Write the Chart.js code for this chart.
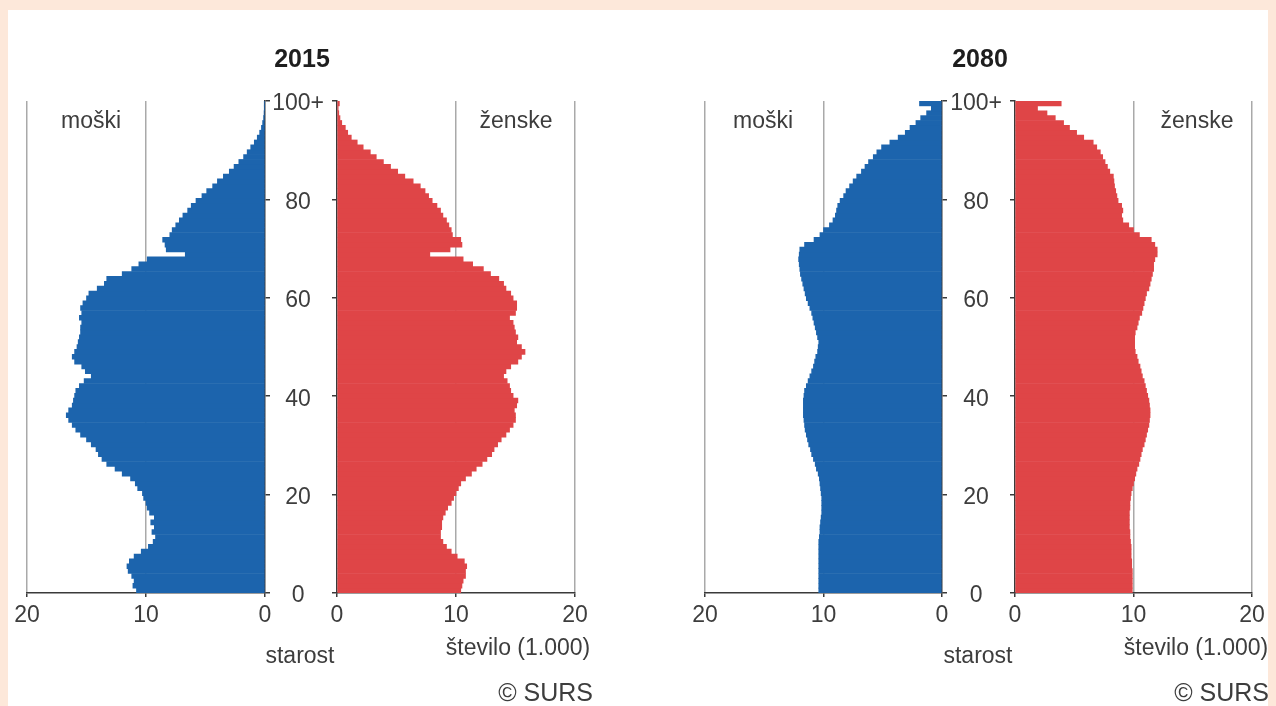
<!DOCTYPE html>
<html><head><meta charset="utf-8">
<script src="https://cdn.jsdelivr.net/npm/chart.js@4.4.1/dist/chart.umd.min.js"></script>
<style>
html,body{margin:0;padding:0;}
body{width:1276px;height:706px;background:#fde8da;position:relative;overflow:hidden;font-family:"Liberation Sans",Arial,sans-serif;color:#3d3d3d;}
#panel{position:absolute;left:8px;top:10px;width:1260px;height:696px;background:#fff;}
canvas{position:absolute;}
.t{position:absolute;white-space:nowrap;font-size:23px;line-height:1;}
.c{transform:translate(-50%,-50%);}
.r{transform:translate(-100%,-50%);}
.b{font-weight:bold;color:#1e1e1e;font-size:25px;}
.s{font-size:25px;}
</style></head><body>
<div id="panel"></div>
<canvas id="m15" width="280" height="580" style="left:0px;top:70px"></canvas>
<canvas id="f15" width="335" height="580" style="left:265px;top:70px"></canvas>
<canvas id="m80" width="277" height="580" style="left:680px;top:70px"></canvas>
<canvas id="f80" width="332" height="580" style="left:942px;top:70px"></canvas>

<div class="t c b" style="left:302px;top:58px">2015</div>
<div class="t c b" style="left:980px;top:58px">2080</div>
<div class="t c" style="left:91px;top:120px">moški</div>
<div class="t c" style="left:516px;top:120px">ženske</div>
<div class="t c" style="left:763px;top:120px">moški</div>
<div class="t c" style="left:1197px;top:120px">ženske</div>
<div class="t c" style="left:300px;top:655px">starost</div>
<div class="t c" style="left:978px;top:655px">starost</div>
<div class="t c" style="left:518px;top:647px">število (1.000)</div>
<div class="t c" style="left:1196px;top:647px">število (1.000)</div>
<div class="t r s" style="left:593px;top:692px">© SURS</div>
<div class="t r s" style="left:1269px;top:692px">© SURS</div>

<script>
const ages = ['0','1','2','3','4','5','6','7','8','9','10','11','12','13','14','15','16','17','18','19',
'20','21','22','23','24','25','26','27','28','29','30','31','32','33','34','35','36','37','38','39',
'40','41','42','43','44','45','46','47','48','49','50','51','52','53','54','55','56','57','58','59',
'60','61','62','63','64','65','66','67','68','69','70','71','72','73','74','75','76','77','78','79',
'80','81','82','83','84','85','86','87','88','89','90','91','92','93','94','95','96','97','98','99','100+'];

const male2015 = [10.8,11.1,11.0,11.2,11.5,11.6,11.4,11.0,10.4,9.8,
 9.4,9.2,9.5,9.3,9.6,9.3,9.7,9.9,10.0,10.2,
 10.3,10.7,10.9,11.3,12.0,12.6,13.3,13.7,14.0,14.2,
 14.6,15.0,15.5,15.9,16.2,16.5,16.7,16.5,16.2,16.1,
 16.0,15.9,15.6,15.2,14.6,15.1,15.4,16.0,16.2,16.0,
 15.8,15.7,15.6,15.5,15.5,15.4,15.6,15.4,15.5,15.3,
 15.0,14.8,14.1,13.5,13.3,12.0,11.2,10.6,9.9,6.7,
 8.3,8.4,8.6,8.0,7.8,7.5,7.2,6.9,6.5,6.2,
 5.8,5.3,4.9,4.4,4.0,3.5,3.0,2.6,2.2,1.8,
 1.5,1.2,0.9,0.65,0.45,0.3,0.2,0.12,0.08,0.05,
 0.05];

const female2015 = [10.4,10.5,10.6,10.8,10.8,10.9,10.7,10.1,9.6,9.2,
 8.9,8.7,8.7,8.8,8.8,8.9,9.1,9.3,9.6,9.8,
 10.0,10.2,10.4,10.8,11.3,11.7,12.2,12.6,13.0,13.2,
 13.5,13.8,14.2,14.5,14.8,15.0,15.0,14.9,15.1,15.2,
 14.8,14.6,14.5,14.3,14.0,14.2,14.6,15.2,15.5,15.8,
 15.5,15.1,15.2,15.0,14.9,14.8,14.5,15.0,15.1,15.1,
 14.8,14.6,14.2,14.0,13.6,12.9,12.3,11.4,10.6,7.8,
 9.5,10.5,10.4,9.7,9.6,9.4,9.2,8.9,8.7,8.4,
 8.0,7.7,7.4,7.0,6.4,5.7,5.1,4.5,3.9,3.3,
 2.8,2.2,1.7,1.2,0.9,0.7,0.4,0.25,0.15,0.1,
 0.2];

const male2080 = [10.4,10.4,10.4,10.4,10.4,10.4,10.4,10.4,10.4,10.4,
 10.4,10.35,10.3,10.3,10.25,10.2,10.15,10.15,10.15,10.15,
 10.2,10.25,10.3,10.35,10.45,10.6,10.7,10.85,11.0,11.1,
 11.25,11.35,11.45,11.55,11.6,11.65,11.7,11.7,11.7,11.7,
 11.65,11.6,11.45,11.3,11.15,11.0,10.85,10.75,10.65,10.5,
 10.45,10.4,10.5,10.6,10.7,10.8,10.9,11.0,11.15,11.3,
 11.45,11.55,11.65,11.75,11.85,11.95,12.0,12.05,12.1,12.05,
 12.0,11.6,10.8,10.3,10.0,9.5,9.2,9.0,8.9,8.8,
 8.6,8.3,8.1,7.8,7.5,7.2,6.8,6.5,6.2,5.8,
 5.5,5.1,4.4,3.7,3.1,2.7,2.2,1.8,1.3,0.9,
 1.9];

const female2080 = [9.9,9.9,9.9,9.9,9.9,9.85,9.85,9.8,9.8,9.8,
 9.75,9.7,9.7,9.65,9.65,9.65,9.65,9.7,9.7,9.75,
 9.8,9.9,10.0,10.1,10.2,10.3,10.45,10.55,10.65,10.75,
 10.9,11.0,11.1,11.2,11.3,11.35,11.4,11.4,11.35,11.3,
 11.2,11.1,11.0,10.9,10.75,10.65,10.55,10.4,10.3,10.15,
 10.1,10.1,10.1,10.15,10.3,10.4,10.5,10.7,10.8,10.9,
 11.0,11.1,11.3,11.4,11.5,11.6,11.7,11.7,11.8,12.0,
 12.0,11.8,11.5,10.5,10.0,9.6,9.1,9.0,9.1,9.0,
 8.7,8.6,8.5,8.4,8.35,8.3,8.0,7.8,7.6,7.4,
 7.2,6.9,6.6,5.8,5.2,4.6,4.1,3.4,2.7,1.9,
 3.9];

const ageTickStep = 20;
const valueTickStep = 10;

const BLUE = '#1c64ad';
const RED = '#df4547';
const AXIS = '#3a3a3a';
const GRID = '#a9a9a9';
const TXT = '#3d3d3d';
const FONT = '"Liberation Sans", Arial, sans-serif';

function makeChart(id, values, color, isMale, pad, yWidth) {
  new Chart(document.getElementById(id), {
    type: 'bar',
    data: {
      labels: ages,
      datasets: [{
        data: values, backgroundColor: color, borderWidth: 0,
        barPercentage: 1, categoryPercentage: 1,
        xAxisID: 'x', yAxisID: 'yc'
      }]
    },
    options: {
      indexAxis: 'y', responsive: false, animation: false, events: [],
      layout: { padding: pad },
      plugins: { legend: { display: false }, tooltip: { enabled: false }, title: { display: false } },
      scales: {
        x: {
          type: 'linear', min: 0, max: 20, reverse: isMale, position: 'bottom', offset: false,
          afterFit: s => { s.height = 57; },
          ticks: { stepSize: valueTickStep, font: { family: FONT, size: 23 }, color: TXT, padding: 5, maxRotation: 0 },
          grid: {
            offset: false,
            color: ctx => (ctx.tick && ctx.tick.value === 0) ? 'rgba(0,0,0,0)' : GRID,
            lineWidth: 1.5, tickLength: 4, tickColor: AXIS, drawTicks: true
          },
          border: { display: true, color: AXIS, width: 1.5 }
        },
        yc: { type: 'category', display: false, reverse: true, offset: true },
        ya: {
          type: 'linear', position: isMale ? 'right' : 'left', min: 0, max: 100, offset: false,
          afterFit: s => { s.width = yWidth; },
          ticks: {
            display: !isMale, stepSize: ageTickStep,
            callback: v => v === 100 ? '100+' : String(v),
            crossAlign: 'center', padding: 8, labelOffset: 3,
            font: { family: FONT, size: 23 }, color: TXT
          },
          grid: { offset: false, drawOnChartArea: false, tickLength: 5, color: AXIS, lineWidth: 1.5 },
          border: { display: true, color: AXIS, width: 1.5 }
        }
      }
    }
  });
}

makeChart('m15', male2015, BLUE, true, { left: 27, top: 31, right: 0, bottom: 0 }, 15);
makeChart('f15', female2015, RED, false, { left: 0, top: 31, right: 25, bottom: 0 }, 72);
makeChart('m80', male2080, BLUE, true, { left: 25, top: 31, right: 0, bottom: 0 }, 15);
makeChart('f80', female2080, RED, false, { left: 0, top: 31, right: 22, bottom: 0 }, 73);
</script>
</body></html>
